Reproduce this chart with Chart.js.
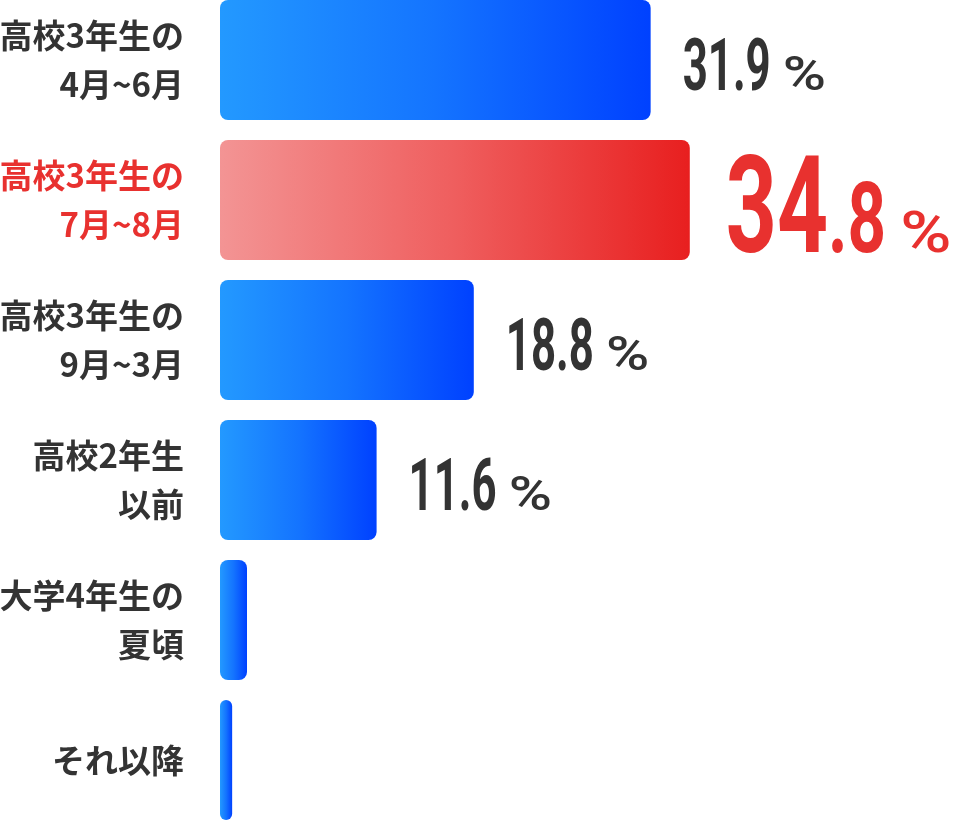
<!DOCTYPE html>
<html>
<head>
<meta charset="utf-8">
<script src="https://cdn.jsdelivr.net/npm/chart.js@4.4.1/dist/chart.umd.min.js"></script>
<style>
  html, body { margin: 0; padding: 0; background: #ffffff; overflow: hidden; }
  #wrap { position: absolute; left: 0; top: -10px; width: 972px; height: 840px; }
</style>
</head>
<body>
<div id="wrap"><canvas id="c"></canvas></div>
<script>
const categories = [
  ["高校3年生の", "4月~6月"],
  ["高校3年生の", "7月~8月"],
  ["高校3年生の", "9月~3月"],
  ["高校2年生", "以前"],
  ["大学4年生の", "夏頃"],
  ["それ以降"]
];
const values = [31.9, 34.8, 18.8, 11.6, 2.0, 0.9];
const showValue = [true, true, true, true, false, false];
const highlightIndex = 1;

const RED = '#e8312f';
const DARK = '#333333';

function barFill(ctx) {
  const chart = ctx.chart;
  const xs = chart.scales && chart.scales.x;
  const hi = ctx.dataIndex === highlightIndex;
  const fallback = hi ? '#ee5555' : '#1677ff';
  if (!xs || ctx.type !== 'data') return fallback;
  const x0 = xs.getPixelForValue(0);
  let x1 = xs.getPixelForValue(values[ctx.dataIndex]);
  if (!isFinite(x0) || !isFinite(x1)) return fallback;
  if (x1 - x0 < 2) x1 = x0 + 2;
  const g = chart.ctx.createLinearGradient(x0, 0, x1, 0);
  if (hi) {
    g.addColorStop(0, '#f39494');
    g.addColorStop(0.5, '#ef5e5e');
    g.addColorStop(1, '#e81f1f');
  } else {
    g.addColorStop(0, '#2399ff');
    g.addColorStop(0.5, '#1474ff');
    g.addColorStop(1, '#0041ff');
  }
  return g;
}

const valueLabels = {
  id: 'valueLabels',
  afterDatasetsDraw(chart) {
    const meta = chart.getDatasetMeta(0);
    const c = chart.ctx;
    meta.data.forEach((bar, i) => {
      if (!showValue[i]) return;
      const big = i === highlightIndex;
      const txt = values[i].toFixed(1);
      const parts = txt.split('.');
      let x = bar.x + (big ? 36 : 32);
      const base = bar.y + (big ? 52 : 30);
      c.save();
      c.fillStyle = big ? RED : DARK;
      c.textBaseline = 'alphabetic';
      c.textAlign = 'left';
      const drawScaled = (s, font, sx) => {
        c.font = font;
        const w = c.measureText(s).width * sx;
        c.save();
        c.translate(x, base);
        c.scale(sx, 1);
        c.fillText(s, 0, 0);
        c.restore();
        x += w;
      };
      if (big) {
        drawScaled(parts[0], 'bold 136px Roboto', 0.655);
        drawScaled('.' + parts[1], 'bold 99px Roboto', 0.68);
        x += 14;
        drawScaled('%', '500 58px Roboto', 1.2);
      } else {
        drawScaled(txt, 'bold 73px Roboto', 0.6);
        x += 12;
        drawScaled('%', '500 49px Roboto', 1.2);
      }
      c.restore();
    });
  }
};

new Chart(document.getElementById('c'), {
  type: 'bar',
  data: {
    labels: categories,
    datasets: [{
      data: values,
      backgroundColor: barFill,
      borderWidth: 0,
      borderRadius: 8,
      borderSkipped: false,
      barPercentage: 120 / 140,
      categoryPercentage: 1.0
    }]
  },
  options: {
    indexAxis: 'y',
    responsive: true,
    maintainAspectRatio: false,
    animation: false,
    events: [],
    layout: { padding: { left: 0, right: 77, top: 0, bottom: 0 } },
    plugins: {
      legend: { display: false },
      tooltip: { enabled: false },
      title: { display: false }
    },
    scales: {
      x: {
        display: false,
        min: 0,
        max: 50
      },
      y: {
        position: 'left',
        offset: true,
        border: { display: false },
        grid: { display: false, drawTicks: false, tickLength: 0 },
        afterFit(scale) {
          scale.width = 220;
          scale.paddingTop = 0;
          scale.paddingBottom = 0;
        },
        ticks: {
          padding: 36,
          crossAlign: 'near',
          color: (ctx) => ctx.index === highlightIndex ? RED : DARK,
          font: { family: '"Noto Sans CJK JP", "Noto Sans", sans-serif', size: 33, weight: 'bold', lineHeight: 1.46 }
        }
      }
    }
  },
  plugins: [valueLabels]
});
</script>
</body>
</html>
